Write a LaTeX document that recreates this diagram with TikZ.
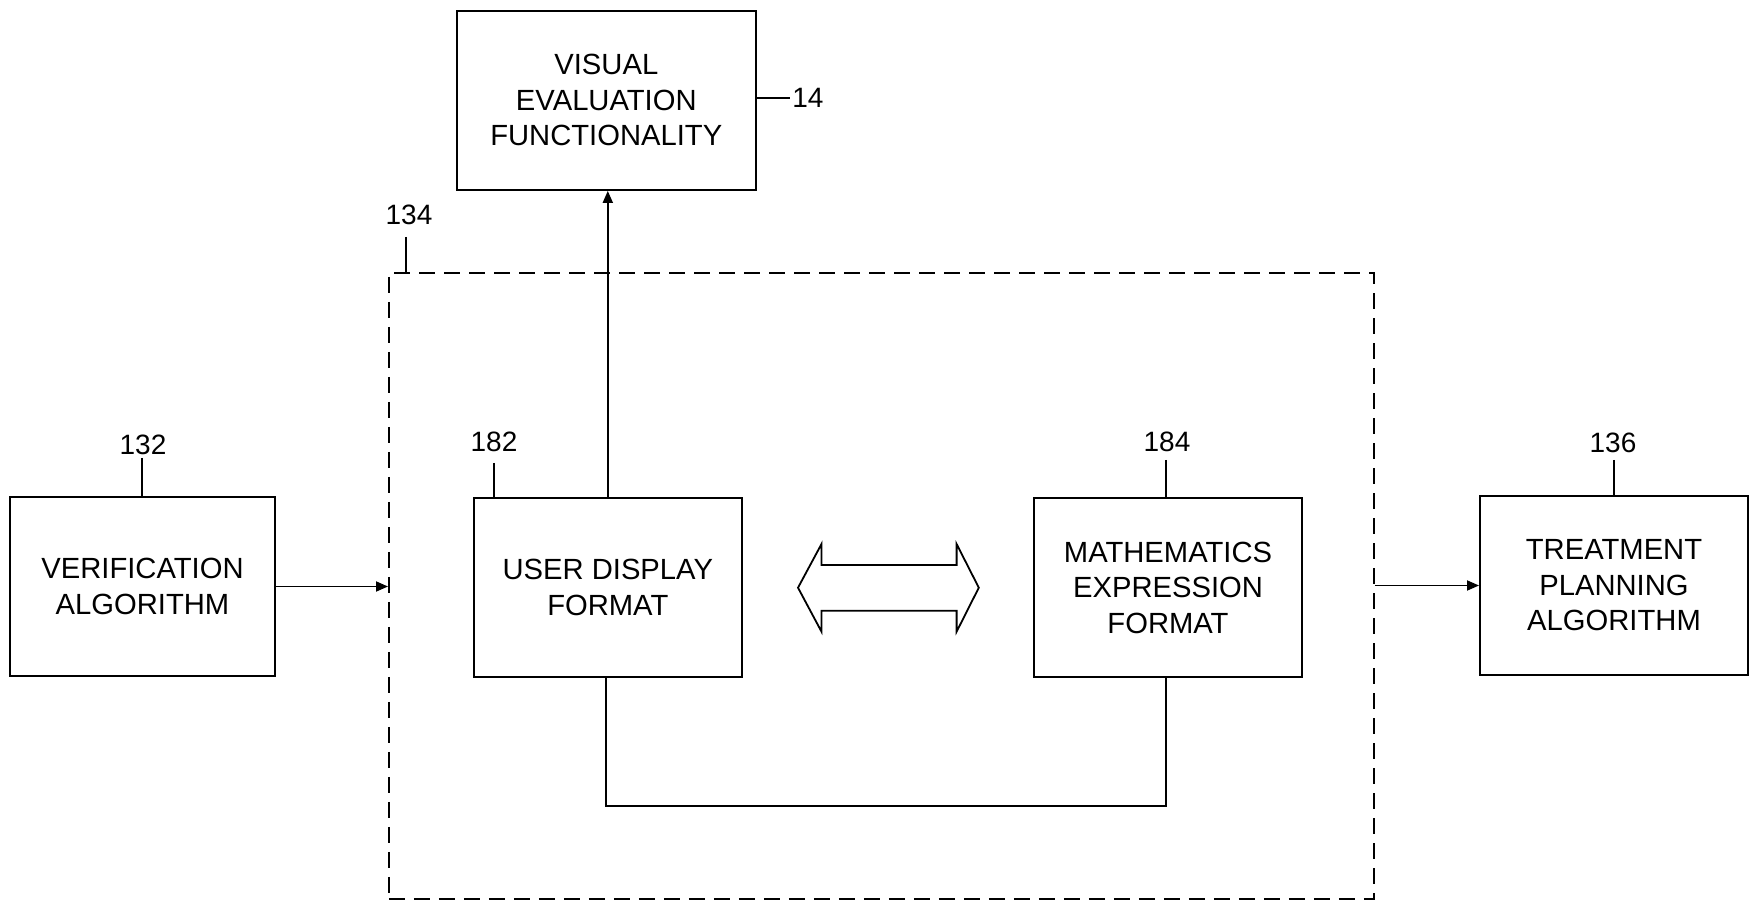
\documentclass[tikz,border=0pt]{standalone}
\usepackage{fontspec}
\setmainfont{Liberation Sans}
\usetikzlibrary{arrows.meta}
\tikzset{
  blockbox/.style={draw, line width=1pt, align=center, inner sep=2pt,
    font=\fontsize{14.6}{17.75}\selectfont},
  refnum/.style={inner sep=1pt, font=\fontsize{14}{16}\selectfont},
  leader/.style={line width=0.9pt},
  flow/.style={line width=0.9pt, -{Triangle[length=6pt,width=5pt]}},
  groupbox/.style={draw, line width=0.9pt, dash pattern=on 8pt off 4.5pt}
}
\begin{document}
\begin{tikzpicture}[x=0.5pt,y=-0.5pt]
\useasboundingbox (0,0) rectangle (1754,908);

% outer dashed group
\node[groupbox, minimum width=492.5pt, minimum height=313pt, anchor=north west] (grp) at (388,272) {};

% blocks
\node[blockbox, minimum width=149.6pt, minimum height=89.6pt] (vis) at (606.3,100.3)
  {VISUAL\\EVALUATION\\FUNCTIONALITY};
\node[blockbox, minimum width=132.8pt, minimum height=89.5pt] (ver) at (142.5,586.5)
  {VERIFICATION\\ALGORITHM};
\node[blockbox, minimum width=133.8pt, minimum height=89.2pt] (uds) at (607.8,587.5)
  {USER DISPLAY\\FORMAT};
\node[blockbox, minimum width=134pt, minimum height=89.5pt] (mef) at (1168,587.5)
  {MATHEMATICS\\EXPRESSION\\FORMAT};
\node[blockbox, minimum width=134pt, minimum height=89.5pt] (tpa) at (1614,585.5)
  {TREATMENT\\PLANNING\\ALGORITHM};

% reference numerals
\node[refnum, anchor=west] (n14) at (790,98) {14};
\node[refnum] (n134) at (409,215) {134};
\node[refnum] (n132) at (143,445) {132};
\node[refnum] (n182) at (494,442) {182};
\node[refnum] (n184) at (1167,442) {184};
\node[refnum] (n136) at (1613,443) {136};

\coordinate (t134) at (406,237);
\coordinate (t182) at (494,463);
\coordinate (t184) at (1166,460);
\coordinate (t136) at (1614,460);
\coordinate (t132) at (142,458);

\draw[leader] (vis.east |- n14.west) -- (n14.west);
\draw[leader] (t134) -- (t134 |- grp.north);
\draw[leader] (t132) -- (t132 |- ver.north);
\draw[leader] (t182) -- (t182 |- uds.north);
\draw[leader] (t184) -- (t184 |- mef.north);
\draw[leader] (t136) -- (t136 |- tpa.north);

% connectors
\draw[flow] (uds.north) -- (uds.north |- vis.south);
\draw[flow] (ver.east) -- (ver.east -| grp.west);
\draw[flow] (grp.east |- tpa.west) -- (tpa.west);
\coordinate (loopL) at (606,806);
\draw[leader] (uds.south -| loopL) -- (loopL) -- (loopL -| t184) -- (t184 |- mef.south);

% two-way hollow arrow between the formats
\draw[line width=0.9pt, line join=miter]
  (798,587.7) -- (821.5,544) -- (821.5,565) -- (956.6,565) -- (956.6,544)
  -- (978.8,587.7) -- (956.6,631.7) -- (956.6,610.7) -- (821.5,610.7)
  -- (821.5,631.7) -- cycle;
\end{tikzpicture}
\end{document}
